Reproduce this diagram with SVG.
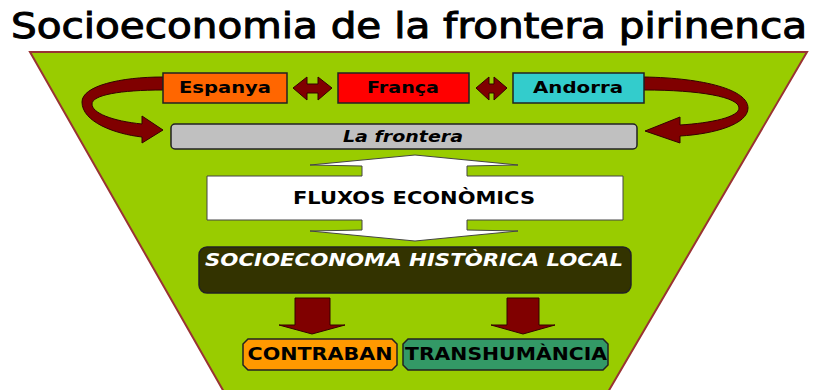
<svg xmlns="http://www.w3.org/2000/svg" width="813" height="390" viewBox="0 0 813 390">
<defs>
<style>
.t{font-family:"DejaVu Sans","Liberation Sans",sans-serif;font-weight:bold;text-anchor:middle}
.box{stroke:#222;stroke-width:1.5}
.arr{fill:#800000;stroke:#330000;stroke-width:1}
</style>
</defs>
<rect width="813" height="390" fill="#ffffff"/>
<g id="title">
<text x="409" y="38" font-family="DejaVu Sans, Liberation Sans, sans-serif" font-size="35" text-anchor="middle" textLength="796" lengthAdjust="spacingAndGlyphs" fill="#000" stroke="#000" stroke-width="1">Socioeconomia de la frontera pirinenca</text>
</g>
<g id="background">
<polygon points="30,52 807,52 608,392 224,392" fill="#99cc00" stroke="#993333" stroke-width="2"/>
</g>
<g id="connectors">
<path class="arr" d="M163,77 C120,77 82,86 82,102 C82,122 115,134 142,137 L142,143 L163,130 L142,116 L142,124 C112,121 92,113 92,104 C92,95 120,90 163,90 Z"/>
<path class="arr" d="M644,77 C705,78 748,90 748,108 C748,124 715,134 680,136 L680,143 L645,131 L680,117 L680,125 C712,123 739,117 739,108 C739,97 700,90 644,90 Z"/>
<path class="arr" d="M293,88 L307,77 L307,84 L318,84 L318,77 L332,88 L318,100 L318,93 L307,93 L307,100 Z"/>
<path class="arr" d="M476,88 L489,77 L489,84 L494,84 L494,77 L507,88 L494,100 L494,93 L489,93 L489,100 Z"/>
<path class="arr" d="M295,298 L330,298 L330,325 L345,325 L312,334 L279,325 L295,325 Z"/>
<path class="arr" d="M507,298 L539,298 L539,325 L555,325 L523,334 L491,325 L507,325 Z"/>
</g>
<g id="espanya">
<rect class="box" x="163" y="73" width="124" height="30" fill="#ff6600"/>
<text class="t" x="225" y="93" font-size="15" textLength="92" lengthAdjust="spacingAndGlyphs" fill="#000">Espanya</text>
</g>
<g id="franca">
<rect class="box" x="338" y="73" width="131" height="30" fill="#ff0000"/>
<text class="t" x="403" y="93" font-size="15" textLength="72" lengthAdjust="spacingAndGlyphs" fill="#000">França</text>
</g>
<g id="andorra">
<rect class="box" x="513" y="73" width="131" height="30" fill="#33cccc"/>
<text class="t" x="578" y="93" font-size="15" textLength="90" lengthAdjust="spacingAndGlyphs" fill="#000">Andorra</text>
</g>
<g id="frontera">
<rect class="box" x="171" y="124" width="466" height="25" rx="4" fill="#c0c0c0"/>
<text class="t" x="403" y="142" font-size="15" font-style="italic" textLength="120" lengthAdjust="spacingAndGlyphs" fill="#000">La frontera</text>
</g>
<g id="fluxos">
<path d="M415,155 L518,165 L467,166 L467,176 L623,176 L623,220 L467,220 L467,230 L518,231 L415,241 L310,231 L362,230 L362,220 L207,220 L207,176 L362,176 L362,166 L310,165 Z" fill="#ffffff" stroke="#444" stroke-width="1"/>
<text class="t" x="414" y="204" font-size="17" textLength="242" lengthAdjust="spacingAndGlyphs" fill="#000">FLUXOS ECONÒMICS</text>
</g>
<g id="socioeconomia">
<rect class="box" x="199" y="247" width="432" height="46" rx="8" fill="#333300"/>
<text class="t" x="414" y="266" font-size="17" font-style="italic" textLength="418" lengthAdjust="spacingAndGlyphs" fill="#ffffff">SOCIOECONOMA HISTÒRICA LOCAL</text>
</g>
<g id="contraban">
<polygon class="box" points="248,339 392,339 397,344 397,365 392,370 248,370 243,365 243,344" fill="#ff9900"/>
<text class="t" x="320" y="360" font-size="17" textLength="145" lengthAdjust="spacingAndGlyphs" fill="#000">CONTRABAN</text>
</g>
<g id="transhumancia">
<polygon class="box" points="408,339 603,339 608,344 608,365 603,370 408,370 403,365 403,344" fill="#339966"/>
<text class="t" x="506" y="360" font-size="17" textLength="202" lengthAdjust="spacingAndGlyphs" fill="#000">TRANSHUMÀNCIA</text>
</g>
</svg>
